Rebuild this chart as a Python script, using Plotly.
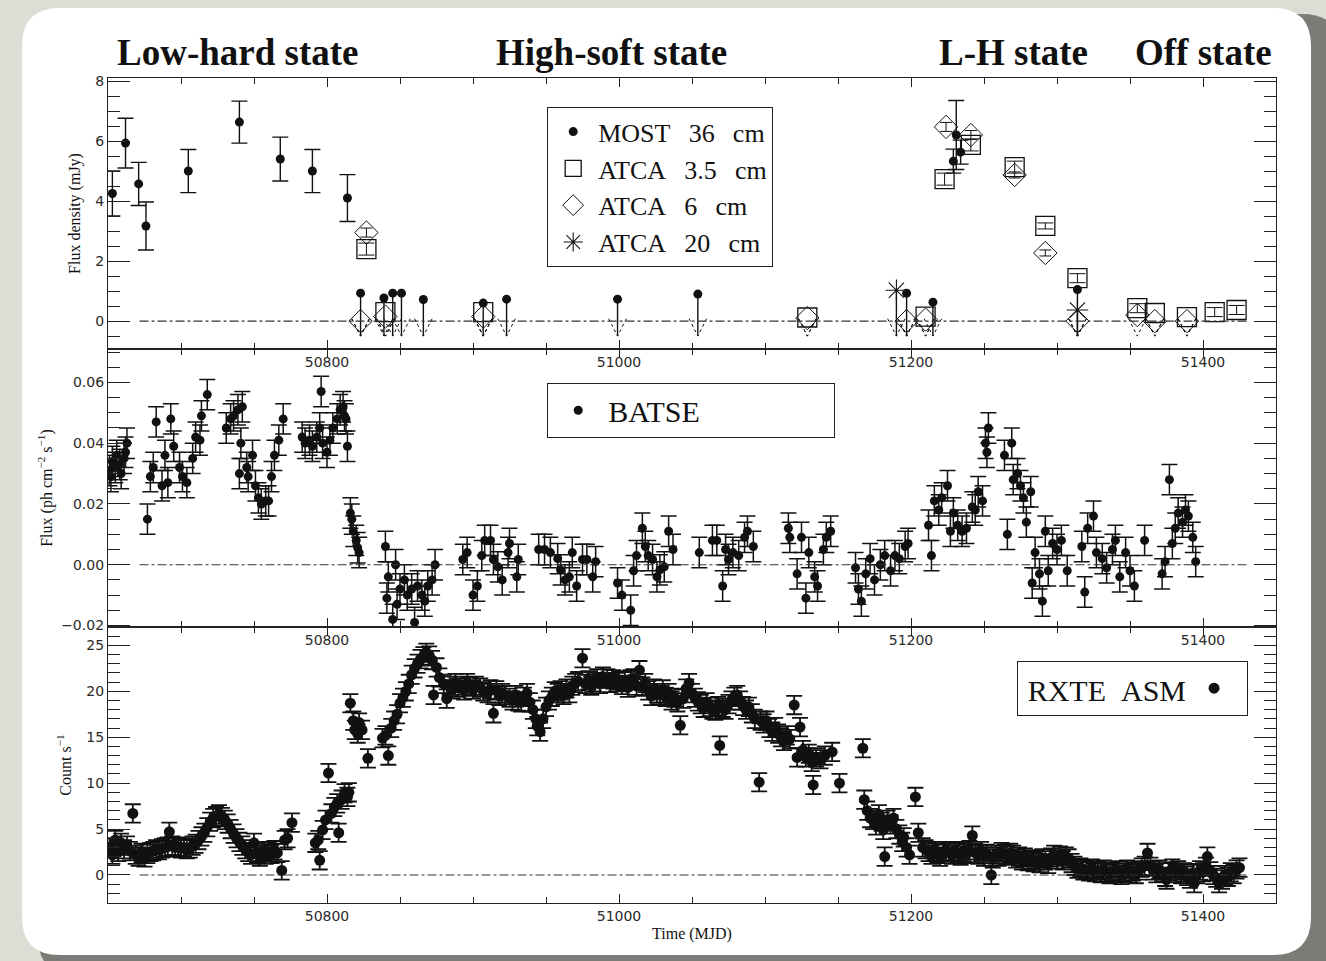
import plotly.graph_objects as go

# ---------------- radio (flux density, mJy) ----------------
MOST_MJD = [50653, 50662, 50671, 50676, 50705, 50740, 50768, 50790, 50814, 51229, 51231, 51234]
MOST_FLUX = [4.25, 5.93, 4.57, 3.17, 5.0, 6.63, 5.4, 5.0, 4.1, 5.33, 6.2, 5.63]
MOST_ERR = [0.75, 0.83, 0.72, 0.8, 0.72, 0.7, 0.73, 0.72, 0.78, 0.4, 1.15, 0.4]

MOST_UL_MJD = [50823, 50839, 50845, 50851, 50866, 50907, 50923, 50999, 51054, 51197, 51215, 51314]
MOST_UL = [0.93, 0.77, 0.93, 0.93, 0.72, 0.6, 0.73, 0.73, 0.9, 0.93, 0.63, 1.05]

ATCA35_MJD = [50827, 51223, 51241, 51271, 51292, 51314, 51355, 51408, 51423]
ATCA35_FLUX = [2.4, 4.73, 5.87, 5.13, 3.17, 1.43, 0.43, 0.3, 0.37]
ATCA35_ERR = [0.2, 0.2, 0.2, 0.2, 0.1, 0.15, 0.15, 0.15, 0.15]
ATCA35_UL_MJD = [50840, 50907, 51129, 51210, 51367, 51389]
ATCA35_UL = [0.3, 0.3, 0.12, 0.15, 0.27, 0.13]

ATCA6_MJD = [50827, 51224, 51241, 51271, 51292]
ATCA6_FLUX = [2.95, 6.47, 6.2, 4.87, 2.27]
ATCA6_ERR = [0.15, 0.15, 0.15, 0.1, 0.1]
ATCA6_UL_MJD = [50823, 50840, 50907, 51129, 51197, 51210, 51314, 51355, 51367, 51389]
ATCA6_UL = [0.0, 0.15, 0.15, 0.1, 0.0, 0.05, 0.0, 0.2, 0.0, 0.0]

ATCA20_UL_MJD = [51190, 51314]
ATCA20_UL = [1.03, 0.37]

# ---------------- BATSE hard X-ray flux (ph cm^-2 s^-1) ----------------
BATSE_MJD = [
    50651, 50652, 50653, 50655, 50656, 50658, 50659, 50661, 50662, 50663,
    50677, 50679, 50681, 50683, 50687, 50689, 50691, 50693, 50695, 50699,
    50701, 50704, 50708, 50710, 50713, 50714, 50718, 50731, 50734, 50736,
    50739, 50740, 50741, 50742, 50745, 50746, 50749, 50751, 50753, 50755,
    50758, 50760, 50762, 50764, 50767, 50770, 50783, 50785, 50788, 50790,
    50793, 50795, 50796, 50797, 50800, 50802, 50804, 50807, 50809, 50811,
    50812, 50813, 50814, 50816, 50817, 50818, 50820, 50821, 50822,
    50840, 50841, 50842, 50845, 50847, 50848, 50850, 50853, 50855, 50858,
    50860, 50862, 50865, 50867, 50869, 50872, 50874, 50893, 50896, 50900,
    50903, 50906, 50908, 50912, 50914, 50917, 50920, 50924, 50925, 50930,
    50931, 50945, 50949, 50953, 50958, 50960, 50963, 50966, 50968, 50971,
    50975, 50978, 50982, 50984, 50999, 51002, 51008, 51010, 51012, 51016,
    51018, 51020, 51023, 51026, 51028, 51031, 51034, 51037, 51055, 51064,
    51067, 51071, 51073, 51075, 51078, 51082, 51086, 51088, 51092, 51116,
    51117, 51122, 51125, 51128, 51130, 51134, 51136, 51140, 51142, 51145,
    51162, 51164, 51166, 51169, 51172, 51175, 51179, 51182, 51186, 51189,
    51192, 51196, 51198,
    51212, 51214, 51216, 51219, 51221, 51225, 51227, 51229, 51232, 51235,
    51238, 51242, 51244, 51246, 51249, 51251, 51252, 51253, 51264, 51266,
    51269, 51270, 51273, 51275, 51277, 51279, 51282, 51283, 51285, 51288,
    51290, 51292, 51294, 51297, 51300, 51303, 51307, 51317, 51319, 51321,
    51325, 51327, 51331, 51334, 51338, 51340, 51343, 51347, 51350, 51353,
    51360, 51372, 51374, 51377, 51379, 51381, 51383, 51386, 51388, 51390,
    51393, 51395,
]
BATSE_FLUX = [
    0.031, 0.029, 0.034, 0.032, 0.036, 0.033, 0.030, 0.035, 0.037, 0.040,
    0.015, 0.029, 0.032, 0.047, 0.026, 0.036, 0.027, 0.048, 0.039, 0.032,
    0.029, 0.027, 0.035, 0.042, 0.041, 0.049, 0.056, 0.045, 0.048, 0.049,
    0.051, 0.030, 0.040, 0.052, 0.032, 0.029, 0.036, 0.026, 0.022, 0.020,
    0.021, 0.021, 0.029, 0.036, 0.041, 0.048, 0.042, 0.040, 0.041, 0.039,
    0.042, 0.045, 0.057, 0.040, 0.037, 0.041, 0.045, 0.048, 0.051, 0.052,
    0.049, 0.048, 0.039, 0.017, 0.015, 0.011, 0.008, 0.0056, 0.004,
    0.006, -0.011, -0.004, -0.018, 0.000, -0.013, -0.008, -0.005, -0.010, -0.008,
    -0.019, -0.007, -0.010, -0.012, -0.007, -0.005, 0.000, 0.0017, 0.004, -0.010,
    -0.007, 0.003, 0.008, 0.008, 0.0017, -0.0007, -0.005, 0.004, 0.007, -0.004,
    0.0017, 0.005, 0.005, 0.004, 0.002, -0.0017, -0.005, -0.004, 0.004, -0.007,
    0.0017, 0.0017, -0.004, 0.001, -0.006, -0.010, -0.015, -0.002, 0.003, 0.012,
    0.006, 0.003, 0.0017, -0.004, -0.0017, -0.0007, 0.011, 0.005, 0.004, 0.008,
    0.008, -0.007, 0.005, 0.0017, 0.004, 0.003, 0.009, 0.011, 0.006, 0.012,
    0.009, -0.003, 0.009, -0.011, 0.004, -0.004, -0.007, 0.005, 0.009, 0.011,
    -0.001, -0.008, -0.012, -0.003, 0.002, -0.005, 0.000, 0.003, -0.002, 0.003,
    0.002, 0.006, 0.007,
    0.013, 0.003, 0.021, 0.018, 0.022, 0.026, 0.011, 0.017, 0.013, 0.011,
    0.012, 0.019, 0.018, 0.024, 0.021, 0.040, 0.037, 0.045, 0.036, 0.010,
    0.040, 0.028, 0.030, 0.026, 0.022, 0.014, 0.024, -0.006, 0.004, -0.003,
    -0.012, 0.011, -0.002, 0.007, 0.005, 0.008, -0.002, 0.006, -0.009, 0.012,
    0.016, 0.004, 0.002, -0.001, 0.005, 0.008, -0.004, 0.004, -0.002, -0.007,
    0.008, -0.003, 0.001, 0.028, 0.007, 0.012, 0.017, 0.014, 0.018, 0.016,
    0.009, 0.001,
]

# ---------------- RXTE ASM soft X-ray rate (count/s) ----------------
ASM_MJD = [
    50651, 50653, 50655, 50657, 50659, 50661, 50663, 50665, 50667, 50669,
    50671, 50673, 50675, 50677, 50679, 50681, 50683, 50685, 50687, 50689,
    50691, 50692, 50694, 50696, 50698, 50700, 50702, 50704, 50706, 50708,
    50710, 50712, 50714, 50716, 50718, 50720, 50722, 50724, 50726, 50728,
    50730, 50732, 50734, 50736, 50738, 50740, 50742, 50744, 50746, 50748,
    50750, 50752, 50754, 50756, 50758, 50760, 50762, 50764, 50766, 50769,
    50771, 50773, 50776,
    50792, 50794, 50795, 50797, 50799, 50801, 50803, 50805, 50807, 50808,
    50810, 50812, 50814, 50815, 50816, 50818, 50819, 50821, 50822, 50824,
    50828,
    50838, 50840, 50842, 50844, 50846, 50848, 50850, 50852, 50854, 50856,
    50858, 50860, 50862, 50864, 50866, 50868, 50870, 50872, 50873, 50875,
    50877, 50880, 50882, 50884, 50886, 50888, 50890, 50892, 50894, 50896,
    50898, 50900, 50902, 50905, 50907, 50910, 50912, 50914, 50916, 50918,
    50920, 50922, 50925, 50927, 50929, 50931, 50933, 50935, 50937, 50939,
    50941, 50943, 50944, 50946, 50948, 50950, 50952, 50954, 50956, 50958,
    50960, 50962, 50964, 50966, 50968, 50970, 50972, 50975, 50977, 50979,
    50981, 50983, 50985, 50987, 50989, 50992, 50994, 50996, 50998, 51000,
    51002, 51004, 51006, 51008, 51010, 51012, 51014, 51016, 51018, 51020,
    51022, 51024, 51026, 51028, 51030, 51032, 51034, 51036, 51038, 51040,
    51042, 51044, 51046, 51048, 51050, 51052, 51054, 51056, 51058, 51060,
    51062, 51064, 51066, 51068, 51069, 51071, 51073, 51075, 51077, 51079,
    51081, 51083, 51085, 51087, 51089, 51091, 51093, 51096, 51097, 51099,
    51101, 51103, 51105, 51107, 51109, 51111, 51113, 51115, 51117, 51120,
    51122, 51124, 51126, 51128, 51130, 51132, 51133, 51135, 51138, 51141,
    51146, 51151, 51167, 51168, 51170, 51172, 51174, 51176, 51178, 51180,
    51181, 51182, 51184, 51186, 51188, 51190, 51192, 51194, 51195, 51197,
    51199, 51203, 51205, 51208, 51210, 51212, 51214, 51216, 51218, 51220,
    51222, 51224, 51226, 51228, 51230, 51232, 51234, 51236, 51238, 51240,
    51242, 51244, 51246, 51248, 51250, 51252, 51255, 51256, 51258, 51260,
    51262, 51264, 51266, 51268, 51270, 51272, 51274, 51276, 51278, 51280,
    51282, 51284, 51286, 51288, 51290, 51292, 51294, 51296, 51298, 51300,
    51302, 51304, 51306, 51308, 51310, 51312, 51314, 51316, 51318, 51320,
    51322, 51324, 51326, 51328, 51330, 51332, 51334, 51336, 51338, 51340,
    51342, 51344, 51346, 51348, 51350, 51352, 51354, 51356, 51358, 51360,
    51362, 51364, 51366, 51368, 51370, 51372, 51374, 51375, 51377, 51379,
    51381, 51383, 51385, 51387, 51389, 51391, 51393, 51394, 51396, 51398,
    51400, 51402, 51403, 51405, 51407, 51409, 51411, 51413, 51415, 51417,
    51419, 51421, 51423, 51425,
]
ASM_RATE = [
    3.0, 2.2, 3.8, 2.5, 3.5, 2.8, 3.2, 2.6, 6.7, 2.2,
    2.0, 2.4, 1.9, 2.3, 2.5, 2.6, 2.8, 2.7, 2.9, 3.0,
    3.1, 4.7, 3.2, 3.0, 3.1, 2.9, 3.0, 2.8, 2.9, 3.2,
    3.4, 3.8, 4.2, 4.6, 5.2, 5.8, 6.2, 6.4, 6.6, 6.3,
    6.0, 5.6, 5.0, 4.5, 4.0, 3.6, 3.2, 2.8, 2.5, 2.2,
    3.5, 2.4, 2.0, 2.6, 2.2, 2.5, 2.3, 2.7, 2.4, 0.5,
    3.8, 4.0, 5.7,
    3.5, 3.8, 1.6, 4.9, 6.0, 11.1, 6.7, 7.4, 7.8, 4.6,
    8.2, 8.9, 8.5, 9.0, 18.7, 16.8, 15.8, 15.4, 16.6, 15.8,
    12.7,
    14.9, 15.2, 13.0, 16.0, 16.8, 17.5, 18.7, 19.3, 20.0, 20.8,
    21.8, 22.5, 23.0, 23.5, 23.8, 24.2, 23.9, 23.4, 19.6, 22.6,
    21.5, 20.8, 19.2, 20.6, 20.2, 20.9, 20.4, 20.6, 20.1, 20.9,
    20.5, 20.2, 20.6, 20.4, 20.0, 19.8, 20.2, 17.6, 20.1, 19.5,
    19.8, 19.6, 19.3, 19.0, 19.6, 18.9, 18.8, 19.4, 19.8, 18.8,
    18.0, 17.0, 16.2, 15.6, 17.0, 18.3, 19.0, 19.4, 20.0, 19.8,
    20.1, 19.6, 20.3, 19.8, 20.6, 20.9, 21.1, 23.6, 20.8, 21.2,
    20.6, 21.0, 21.4, 20.8, 21.6, 21.4, 20.9, 21.3, 21.0, 21.2,
    20.7, 21.1, 20.4, 21.3, 21.4, 20.6, 22.3, 20.5, 20.9, 20.1,
    19.5, 20.3, 19.8, 19.6, 20.2, 19.4, 19.8, 19.0, 19.3, 18.8,
    16.3, 19.2, 20.3, 20.9, 19.8, 19.3, 18.9, 18.6, 18.2, 18.8,
    18.3, 18.0, 17.9, 18.4, 14.1, 18.2, 18.0, 18.6, 19.0, 19.4,
    19.6, 19.0, 18.4, 18.0, 18.3, 17.6, 17.0, 10.1, 16.8, 16.5,
    16.8, 16.0, 15.6, 16.1, 15.4, 15.0, 14.6, 15.2, 14.8, 18.5,
    12.8, 16.1, 13.6, 12.8, 13.2, 12.3, 9.8, 12.8, 12.6, 13.0,
    13.4, 10.0, 13.8, 8.2, 7.0, 6.2, 6.0, 5.4, 6.6, 5.8,
    4.9, 2.0, 6.0, 5.5, 6.2, 5.0, 4.4, 3.6, 4.1, 3.0,
    2.2, 8.5, 4.6, 3.0, 2.8, 2.5, 2.2, 2.6, 2.4, 2.0,
    2.3, 2.6, 2.5, 2.2, 2.6, 2.4, 2.1, 2.5, 2.3, 2.7,
    4.3, 2.4, 2.2, 2.6, 2.0, 2.3, 0.0, 1.8, 2.2, 2.0,
    2.5, 2.3, 2.1, 2.4, 2.2, 1.8, 2.0, 1.6, 1.9, 1.5,
    1.7, 1.4, 1.6, 1.3, 1.8, 1.6, 1.2, 1.9, 2.2, 1.7,
    2.1, 1.6, 2.0, 1.8, 1.3, 1.0, 0.7, 0.8, 0.5, 0.6,
    0.4, 0.7, 0.3, 0.5, 0.2, 0.6, 0.3, 0.1, 0.4, 0.2,
    0.5, 0.0, 0.3, 0.6, 0.2, 0.4, 0.1, 0.5, 0.8, 1.0,
    2.4, 0.9, 0.5, 0.2, 0.6, 0.3, -0.2, -0.5, 0.4, 0.7,
    0.2, 0.5, 0.1, 0.3, -0.1, -0.4, 0.2, -0.9, 0.1, 0.5,
    0.3, 0.9, 2.0, 0.4, 0.0, -0.3, -0.9, -0.5, 0.0, -0.2,
    0.3, 0.1, 0.6, 0.8,
]

STATE_LABELS = ["Low-hard state", "High-soft state", "L-H state", "Off state"]

# ---------------- page geometry ----------------
W, H = 1326, 961
ML, MR, MT, MB = 108, 50, 78, 58
PW, PH = W - ML - MR, H - MT - MB


def px_x(px):
    return (px - ML) / PW


def px_y(py):
    return (H - MB - py) / PH


def rounded_rect(x0, y0, x1, y1, r):
    X, Y = px_x, px_y
    return (f"M {X(x0 + r)},{Y(y0)} L {X(x1 - r)},{Y(y0)} "
            f"Q {X(x1)},{Y(y0)} {X(x1)},{Y(y0 + r)} L {X(x1)},{Y(y1 - r)} "
            f"Q {X(x1)},{Y(y1)} {X(x1 - r)},{Y(y1)} L {X(x0 + r)},{Y(y1)} "
            f"Q {X(x0)},{Y(y1)} {X(x0)},{Y(y1 - r)} L {X(x0)},{Y(y0 + r)} "
            f"Q {X(x0)},{Y(y0)} {X(x0 + r)},{Y(y0)} Z")


STATE_LABEL_X = [px_x(238), px_x(611), px_x(1013), px_x(1203)]

X_RANGE = [50650, 51450]
DOM_TOP = [px_y(349), 1.0]
DOM_MID = [px_y(627), px_y(349)]
DOM_BOT = [0.0, px_y(627)]

INK = "#111111"
SERIF = "Liberation Serif"
SP = "\u2002\u2009"  # wide word gap for the legend labels

fig = go.Figure()

# ---- radio panel ----
fig.add_trace(go.Scatter(
    x=MOST_MJD, y=MOST_FLUX, mode="markers", name=f"MOST{SP}36{SP}cm",
    marker=dict(symbol="circle", size=9, color=INK),
    error_y=dict(type="data", array=MOST_ERR, color=INK, thickness=1.4, width=8),
    xaxis="x", yaxis="y", legend="legend"))
fig.add_trace(go.Scatter(
    x=ATCA35_MJD, y=ATCA35_FLUX, mode="markers", name=f"ATCA{SP}3.5{SP}cm",
    marker=dict(symbol="square-open", size=19, color=INK, line=dict(width=1.3)),
    error_y=dict(type="data", array=ATCA35_ERR, color=INK, thickness=1.0, width=8),
    xaxis="x", yaxis="y", legend="legend"))
fig.add_trace(go.Scatter(
    x=ATCA6_MJD, y=ATCA6_FLUX, mode="markers", name=f"ATCA{SP}6{SP}cm",
    marker=dict(symbol="diamond-open", size=18, color=INK, line=dict(width=1.0)),
    error_y=dict(type="data", array=ATCA6_ERR, color=INK, thickness=1.0, width=6),
    xaxis="x", yaxis="y", legend="legend"))
fig.add_trace(go.Scatter(
    x=ATCA20_UL_MJD, y=ATCA20_UL, mode="markers", name=f"ATCA{SP}20{SP}cm",
    marker=dict(symbol="asterisk-open", size=18, color=INK, line=dict(width=1.1)),
    xaxis="x", yaxis="y", legend="legend"))

# upper limits: symbol at the limit, stem down past zero, open arrow head
fig.add_trace(go.Scatter(
    x=MOST_UL_MJD, y=MOST_UL, mode="markers", showlegend=False,
    marker=dict(symbol="circle", size=9, color=INK), xaxis="x", yaxis="y"))
fig.add_trace(go.Scatter(
    x=ATCA35_UL_MJD, y=ATCA35_UL, mode="markers", showlegend=False,
    marker=dict(symbol="square-open", size=19, color=INK, line=dict(width=1.3)),
    xaxis="x", yaxis="y"))
fig.add_trace(go.Scatter(
    x=ATCA6_UL_MJD, y=ATCA6_UL, mode="markers", showlegend=False,
    marker=dict(symbol="diamond-open", size=18, color=INK, line=dict(width=1.0)),
    xaxis="x", yaxis="y"))

TIP = -0.5
HEAD_HALF = 6
stem_x, stem_y, head_x, head_y = [], [], [], []
for mjds, lims in [(MOST_UL_MJD, MOST_UL), (ATCA20_UL_MJD, ATCA20_UL)]:
    for m, v in zip(mjds, lims):
        stem_x += [m, m, None]
        stem_y += [v, TIP, None]
for mjds in [MOST_UL_MJD, ATCA35_UL_MJD, ATCA6_UL_MJD, ATCA20_UL_MJD]:
    for m in mjds:
        head_x += [m - HEAD_HALF, m, m + HEAD_HALF, None]
        head_y += [0.08, TIP, 0.08, None]
fig.add_trace(go.Scatter(x=stem_x, y=stem_y, mode="lines", showlegend=False,
                         line=dict(color=INK, width=1.4), xaxis="x", yaxis="y"))
fig.add_trace(go.Scatter(x=head_x, y=head_y, mode="lines", showlegend=False,
                         line=dict(color=INK, width=1.0, dash="dot"), xaxis="x", yaxis="y"))

# ---- BATSE panel ----
fig.add_trace(go.Scatter(
    x=BATSE_MJD, y=BATSE_FLUX, mode="markers", name="BATSE",
    marker=dict(symbol="circle", size=9, color=INK),
    error_y=dict(type="constant", value=0.005, color=INK, thickness=1.5, width=8),
    xaxis="x2", yaxis="y2", legend="legend2"))

# ---- RXTE ASM panel ----
fig.add_trace(go.Scatter(
    x=ASM_MJD, y=ASM_RATE, mode="markers", name=" ",
    marker=dict(symbol="circle", size=11, color=INK),
    error_y=dict(type="constant", value=1.0, color=INK, thickness=1.8, width=8),
    xaxis="x3", yaxis="y3", legend="legend3"))

# ---- axes ----
tick_font = dict(family="DejaVu Sans", size=14, color="#2a2a2a")
title_font = dict(family=SERIF, size=16, color=INK)


def xaxis(domain_anchor, title=None):
    d = dict(range=X_RANGE, domain=[0, 1], anchor=domain_anchor, dtick=200, tickformat="d",
             showline=True, linecolor="#222222", linewidth=1.3, mirror="ticks",
             ticks="inside", ticklen=9, tickwidth=1.3, tickcolor="#222222",
             minor=dict(dtick=50, ticks="inside", ticklen=6, tickwidth=1.2, tickcolor="#222222"),
             showgrid=False, zeroline=False, tickfont=tick_font)
    if title:
        d["title"] = dict(text=title, font=title_font, standoff=4)
    return d


def yaxis(domain, anchor, rng, dtick, minor, fmt, title, standoff):
    return dict(domain=domain, anchor=anchor, range=rng, dtick=dtick, tickformat=fmt,
                showline=True, linecolor="#222222", linewidth=1.3, mirror="ticks",
                ticks="inside", ticklen=22, tickwidth=1.3, tickcolor="#222222",
                minor=dict(dtick=minor, ticks="inside", ticklen=12, tickwidth=1.2, tickcolor="#222222"),
                showgrid=False, zeroline=False, tickfont=tick_font,
                title=dict(text=title, font=title_font, standoff=standoff))


fig.update_layout(
    xaxis=xaxis("y"),
    xaxis2=xaxis("y2"),
    xaxis3=xaxis("y3", "Time (MJD)"),
    yaxis=yaxis(DOM_TOP, "x", [-0.93, 8.1], 2, 0.5, "d", "Flux density (mJy)", 10),
    yaxis2=yaxis(DOM_MID, "x2", [-0.0205, 0.071], 0.02, 0.005, ".2f",
                 "Flux (ph cm<sup>\u22122</sup> s<sup>\u22121</sup>)", 4),
    yaxis3=yaxis(DOM_BOT, "x3", [-3.05, 27.0], 5, 1, "d", "Count s<sup>\u22121</sup>", 10),
)

# zero reference lines
for xr, yr in [("x", "y"), ("x2", "y2"), ("x3", "y3")]:
    fig.add_shape(type="line", xref=f"{xr} domain", yref=yr, x0=0.027, x1=0.975, y0=0, y1=0,
                  line=dict(color="#333333", width=1.1, dash="dashdot"))

# slide card with drop shadow
fig.add_shape(type="path", xref="paper", yref="paper", layer="below",
              path=rounded_rect(38, 14, 1340, 975, 38), fillcolor="#7b7b78", line=dict(width=0))
fig.add_shape(type="path", xref="paper", yref="paper", layer="below",
              path=rounded_rect(22, 8, 1311, 955, 38), fillcolor="white", line=dict(width=0))

# state labels along the top
for text, xp in zip(STATE_LABELS, STATE_LABEL_X):
    fig.add_annotation(x=xp, xref="paper", y=px_y(52), yref="paper", text=f"<b>{text}</b>",
                       xanchor="center", yanchor="middle", showarrow=False,
                       font=dict(family=SERIF, size=37, color=INK))

legend_box = dict(bgcolor="white", bordercolor="#222222", borderwidth=1.2,
                  xanchor="left", yanchor="top")
fig.update_layout(
    width=W, height=H,
    margin=dict(l=ML, r=MR, t=MT, b=MB, autoexpand=False),
    paper_bgcolor="#deddd5", plot_bgcolor="white",
    showlegend=True,
    legend=dict(x=px_x(547), y=px_y(107), font=dict(family=SERIF, size=26, color=INK),
                itemsizing="trace", itemwidth=40, **legend_box),
    legend2=dict(x=px_x(547), y=px_y(383), font=dict(family=SERIF, size=30, color=INK),
                 orientation="h", entrywidth=220, itemwidth=50, **legend_box),
    legend3=dict(x=px_x(1017), y=px_y(661), font=dict(family=SERIF, size=30, color=INK),
                 orientation="h",
                 title=dict(text="\u00a0RXTE\u2002ASM", side="left",
                            font=dict(family=SERIF, size=30, color=INK)),
                 **legend_box),
)

fig.write_html("out.html")
